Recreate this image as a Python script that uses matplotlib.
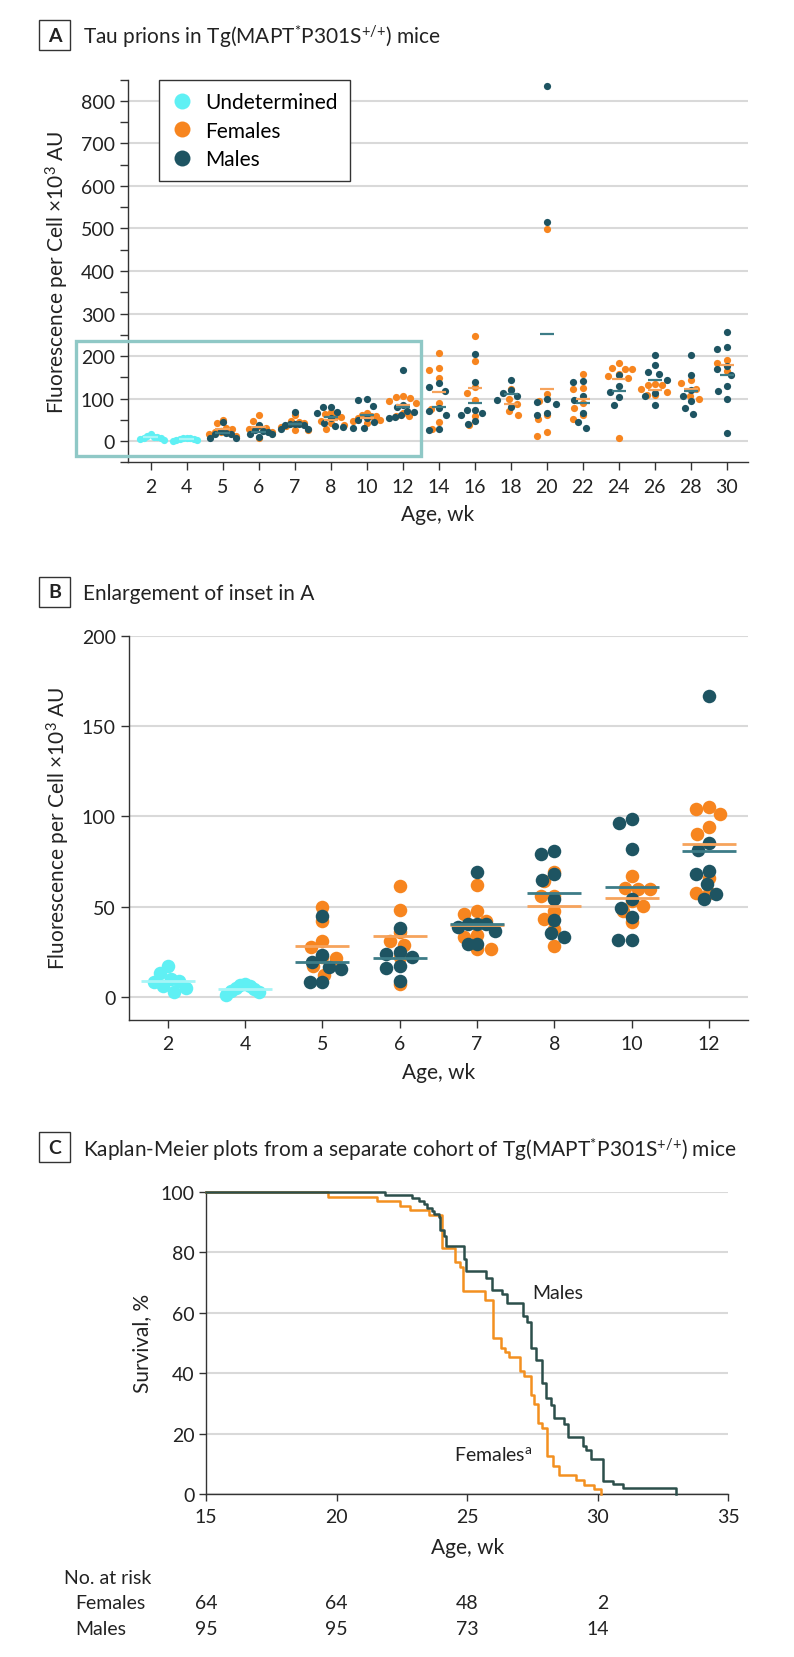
import numpy as np
import matplotlib
matplotlib.use('Agg')
import matplotlib.pyplot as plt
from matplotlib.lines import Line2D
from matplotlib.patches import Rectangle
from matplotlib import transforms
from matplotlib.ticker import MultipleLocator

plt.rcParams['font.family'] = ['Lato', 'DejaVu Sans']
plt.rcParams['mathtext.fontset'] = 'custom'
plt.rcParams['mathtext.rm'] = 'Lato'
plt.rcParams['mathtext.it'] = 'Lato:italic'
plt.rcParams['mathtext.bf'] = 'Lato:bold'

# ---- data: panel A / B (fluorescence per cell x10^3 AU) ----
ages = ['2', '4', '5', '6', '7', '8', '10', '12', '14', '16', '18', '20',
        '22', '24', '26', '28', '30']

undetermined = [
    [17, 13, 10, 9, 8, 6, 5, 3],          # 2 wk
    [7, 6.5, 6, 5, 4.5, 3.5, 2.5, 1],     # 4 wk
]

females = [
    [], [],
    [49.8, 42.2, 31.2, 27.6, 22.3, 21.4, 16.9, 12.3],
    [61.5, 48, 36, 31, 29, 22, 7],
    [61.9, 47.6, 45.8, 42, 34.4, 33.1, 26.6, 26.6],
    [68.9, 64.3, 56, 56, 47.6, 43, 37.4, 28.2],
    [66.7, 60.4, 59.9, 59.9, 53.3, 50.6, 47.6, 41.4],
    [105.4, 104.3, 101.2, 94.1, 90.4, 66.1, 57.8, 57.8],
    [206, 173, 166, 148, 90, 75, 45, 28.5],
    [246, 188, 128, 112, 96, 58, 38],
    [123, 100, 86, 71, 61],
    [498, 110, 95, 62, 52, 21, 13],
    [158.5, 123.9, 121.6, 90, 77, 60.7, 52.9],
    [182.9, 172.6, 170.4, 168.8, 158.5, 153, 149.1, 6.3],
    [133.8, 130.7, 130.7, 121.3, 115, 107.2, 107.2],
    [143.7, 137.5, 123.4, 105, 98],
    [190, 184, 164],
]

males = [
    [], [],
    [44.9, 23.2, 19.4, 16.7, 15.5, 8.3, 8.3],
    [38.4, 25, 24, 22, 17, 16, 9],
    [69.4, 40.3, 40.3, 40.3, 38.9, 36.7, 29.3, 29.3],
    [81, 79, 68, 65, 54.5, 42.6, 35.4, 33.1],
    [98.4, 96.2, 81.8, 54.1, 49.5, 44, 31.6, 31.6],
    [166.7, 85.3, 81.1, 69.8, 68, 62.4, 56.9, 54.1],
    [135.7, 127.8, 117.6, 78.4, 70.6, 61.9, 29.2, 26.9],
    [204, 139, 74, 73, 67, 62, 47, 41],
    [143, 119, 112, 106, 97, 80],
    [835, 516, 98, 93, 88, 67, 61],
    [140.9, 137.8, 105.8, 96.4, 65.9, 44.7, 29.8],
    [154.6, 129.6, 116.3, 104.5, 84.9],
    [203.2, 178.9, 161.7, 157.8, 142.9, 111.9, 105.6, 83.7],
    [203.2, 154.6, 120.9, 106.8, 95, 77, 63.7],
    [257.3, 221.2, 217.3, 176.5, 168.6, 155.3, 129.4, 117.6, 99.6, 19.6],
]

# ---- data: panel C (Kaplan-Meier, event time in wk, survival % after event) ----
fem_km_t = [19.68, 21.56, 22.41, 22.82, 23.53, 24.04, 24.55, 24.74, 24.85, 25.68,
            26.0, 26.28, 26.44, 26.6, 27.03, 27.18, 27.44, 27.56, 27.72, 27.85,
            28.04, 28.27, 28.53, 29.17, 29.49, 29.87, 30.13]
fem_km_s = [98.4, 96.9, 95.3, 93.8, 92.2, 81.3, 76.6, 75.0, 67.2, 64.1,
            51.6, 48.4, 46.9, 45.3, 40.6, 39.1, 32.8, 29.7, 23.4, 21.9,
            12.5, 9.4, 6.3, 4.7, 3.1, 1.6, 0]
male_km_t = [21.86, 22.88, 23.14, 23.33, 23.46, 23.65, 23.72, 23.91, 23.97, 24.1,
             24.17, 24.87, 24.94, 25.71, 25.96, 26.35, 26.54, 27.15, 27.31, 27.44,
             27.63, 27.85, 28.01, 28.2, 28.31, 28.72, 28.85, 29.42, 29.55, 29.74,
             30.19, 30.58, 30.96, 33.0]
male_km_s = [98.9, 97.9, 96.8, 95.8, 94.7, 93.7, 92.6, 91.6, 87.4, 85.3,
             82.1, 77.9, 73.7, 71.6, 67.4, 66.3, 63.2, 58.9, 56.8, 48.4,
             44.2, 36.8, 31.6, 29.5, 25.3, 23.2, 18.9, 15.8, 14.7, 11.6,
             4.2, 3.2, 2.1, 0]
risk_times = [15, 20, 25, 30]
risk_females = [64, 64, 48, 2]
risk_males = [95, 95, 73, 14]

CYAN = '#5ff0f4'
ORANGE = '#f7851f'
DARK = '#1e5462'
CYAN_MEAN = '#a6f5f7'
ORANGE_MEAN = '#f6a35c'
DARK_MEAN = '#3d7c87'
KM_F = '#f39020'
KM_M = '#2c4f4b'
GRID = '#d9d9d9'
INK = '#222222'

W, H = 794, 1658
fig = plt.figure(figsize=(W / 100, H / 100), dpi=100)


def box(l, t, r, b):
    return [l / W, 1 - b / H, (r - l) / W, (b - t) / H]


def swarm(vals, d, sx, sy, limit):
    # simple beeswarm in pixel space, squeezed to +-limit (data units)
    ys = np.asarray(vals, float) * sy
    xs = np.zeros(len(ys))
    placed = []
    for i in np.argsort(-ys):
        cands = [0.0]
        for j in placed:
            dy = ys[i] - ys[j]
            if abs(dy) < d:
                dx = np.sqrt(d * d - dy * dy)
                cands += [xs[j] - dx, xs[j] + dx]
        cands.sort(key=abs)
        for c in cands:
            if all((c - xs[j]) ** 2 + (ys[i] - ys[j]) ** 2 >= d * d - 1e-6 for j in placed):
                xs[i] = c
                break
        placed.append(i)
    xs = xs / sx
    wide = np.abs(xs).max()
    if wide > limit:
        xs = xs * limit / wide
    return xs


def panel_label(letter, top, text, baseline):
    fig.add_artist(Rectangle((39 / W, 1 - (top + 30) / H), 31 / W, 30 / H,
                             transform=fig.transFigure, fill=False, ec='#333333', lw=1.0))
    fig.text(54.5 / W, 1 - (top + 15) / H, letter, ha='center', va='center',
             fontsize=14, fontweight='bold', color=INK)
    fig.text(83 / W, 1 - baseline / H, text, ha='left', va='baseline', fontsize=15, color=INK)


def style_axes(ax):
    for s in ['top', 'right']:
        ax.spines[s].set_visible(False)
    for s in ['left', 'bottom']:
        ax.spines[s].set_color('#333333')
        ax.spines[s].set_linewidth(1.0)
    ax.tick_params(which='both', direction='out', length=6, width=1.0, color='#333333',
                   labelsize=14, labelcolor=INK)
    ax.tick_params(axis='x', pad=5)
    ax.grid(axis='y', color=GRID, lw=1.5)
    ax.set_axisbelow(True)


def labels(ax, xlab, ylab, xpos, ypos):
    ax.set_xlabel(xlab, fontsize=15, color=INK, va='center')
    ax.xaxis.set_label_coords(0.5, xpos)
    ax.set_ylabel(ylab, fontsize=15, color=INK, va='center')
    ax.yaxis.set_label_coords(ypos, 0.5)


def dot_panel(ax, n, d, ms, half, lw, limit):
    p0, p1 = ax.transData.transform([[0, 0], [1, 1]])
    sx, sy = p1 - p0
    groups = [(undetermined, CYAN, CYAN_MEAN), (females, ORANGE, ORANGE_MEAN),
              (males, DARK, DARK_MEAN)]
    for data, c, _ in groups:
        for i in range(n):
            if i >= len(data) or len(data[i]) == 0:
                continue
            v = np.asarray(data[i])
            ax.scatter(i + swarm(v, d, sx, sy, limit), v, s=ms, color=c, lw=0, zorder=3,
                       clip_on=False)
    for data, _, cm in groups:
        for i in range(n):
            if i >= len(data) or len(data[i]) == 0:
                continue
            m = np.mean(data[i])
            ax.plot([i - half, i + half], [m, m], color=cm, lw=lw, zorder=4,
                    solid_capstyle='butt')
    ax.set_xticks(range(n))
    ax.set_xticklabels(ages[:n])


strain = r'Tg(MAPT$^{{*}}$P301S$^{{+}/{+}}$)'

# ---------------- panel A ----------------
axA = fig.add_axes(box(128, 80.7, 748, 463.3))
style_axes(axA)
axA.set_xlim(-0.63, 16.59)
axA.set_ylim(-50, 850)
axA.yaxis.set_major_locator(MultipleLocator(100))
axA.yaxis.set_minor_locator(MultipleLocator(50))
dot_panel(axA, 17, 10, 27, 0.2, 1.6, 0.38)
axA.add_patch(Rectangle((-2.08, -35), 9.58, 270, fill=False, ec='#8fc8c6', lw=2.4,
                        clip_on=False, zorder=5))
labels(axA, 'Age, wk', 'Fluorescence per Cell ×10$^3$ AU', -0.136, -0.1145)
handles = [Line2D([], [], ls='', marker='o', ms=11.5, mfc=c, mec='none')
           for c in (CYAN, ORANGE, DARK)]
leg = axA.legend(handles, ['Undetermined', 'Females', 'Males'], loc='upper left',
                 bbox_to_anchor=(0.05, 1.0), fancybox=False, edgecolor='#333333',
                 framealpha=1, fontsize=15, handletextpad=0.6, labelspacing=0.4,
                 borderpad=0.6, handlelength=1.0, borderaxespad=0)
leg.get_frame().set_linewidth(1.0)
panel_label('A', 21, 'Tau prions in ' + strain + ' mice', 44.3)

# ---------------- panel B ----------------
axB = fig.add_axes(box(129, 636.7, 747.7, 1020.7))
style_axes(axB)
axB.set_xlim(-0.5, 7.5)
axB.set_ylim(-12.6, 200)
axB.set_yticks([0, 50, 100, 150, 200])
dot_panel(axB, 8, 13.5, 95, 0.35, 2.0, 0.24)
labels(axB, 'Age, wk', 'Fluorescence per Cell ×10$^3$ AU', -0.136, -0.114)
panel_label('B', 578, 'Enlargement of inset in A', 600)

# ---------------- panel C ----------------
axC = fig.add_axes(box(206.2, 1192.7, 728.2, 1495))
style_axes(axC)
axC.tick_params(length=5)
axC.set_xlim(15, 35)
axC.set_ylim(0, 100)
axC.set_xticks(range(15, 40, 5))
axC.set_yticks(range(0, 120, 20))
axC.step([15] + fem_km_t, [100] + fem_km_s, where='post', color=KM_F, lw=1.8,
         clip_on=False, zorder=3)
axC.step([15] + male_km_t, [100] + male_km_s, where='post', color=KM_M, lw=1.8,
         clip_on=False, zorder=4)
axC.text(27.5, 66.8, 'Males', fontsize=14, va='center', color=INK)
axC.text(24.5, 13.1, 'Females$^{\\mathrm{a}}$', fontsize=14, va='center', color=INK)
labels(axC, 'Age, wk', 'Survival, %', -0.175, -0.1236)
panel_label('C', 1133, 'Kaplan-Meier plots from a separate cohort of ' + strain + ' mice',
            1156.7)

# number at risk table
tr = transforms.blended_transform_factory(axC.transData, fig.transFigure)
tr_num = transforms.offset_copy(tr, fig=fig, x=8, y=0, units='points')
fig.text(64 / W, 1 - 1579 / H, 'No. at risk', fontsize=14, va='center', color=INK)
fig.text(75.5 / W, 1 - 1604 / H, 'Females', fontsize=14, va='center', color=INK)
fig.text(75.5 / W, 1 - 1630 / H, 'Males', fontsize=14, va='center', color=INK)
for t, f, m in zip(risk_times, risk_females, risk_males):
    axC.text(t, 1 - 1604 / H, str(f), transform=tr_num, ha='right', va='center',
             fontsize=14, color=INK)
    axC.text(t, 1 - 1630 / H, str(m), transform=tr_num, ha='right', va='center',
             fontsize=14, color=INK)

fig.savefig('out.png', dpi=100, facecolor='white')
